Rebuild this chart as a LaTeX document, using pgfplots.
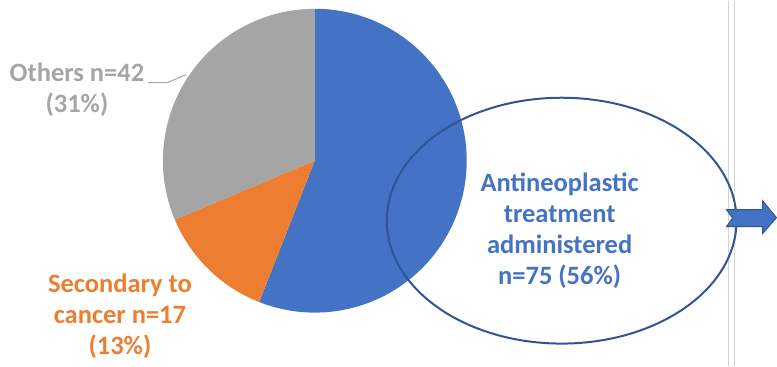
\documentclass[border=0pt]{standalone}
\usepackage{pgfplots}
\usepackage{pgfplotstable}
\pgfplotsset{compat=1.18}
\usepackage{fontspec}
\setmainfont{Carlito}
\definecolor{cblue}{HTML}{4472C4}
\definecolor{corange}{HTML}{ED7D31}
\definecolor{cgray}{HTML}{A5A5A5}
\definecolor{cdark}{HTML}{2F5597}
\definecolor{cline}{HTML}{D4D4D4}
\pgfplotstableread{
label value
Antineoplastic 75
Secondary 17
Others 42
}\piedata
\begin{document}
\begin{tikzpicture}
\pgfplotstablegetelem{0}{value}\of\piedata \pgfmathsetmacro{\va}{\pgfplotsretval}
\pgfplotstablegetelem{1}{value}\of\piedata \pgfmathsetmacro{\vb}{\pgfplotsretval}
\pgfplotstablegetelem{2}{value}\of\piedata \pgfmathsetmacro{\vc}{\pgfplotsretval}
\pgfmathsetmacro{\tot}{\va+\vb+\vc}
\pgfmathsetmacro{\ea}{90-360*(\va/\tot)}
\pgfmathsetmacro{\eb}{\ea-360*(\vb/\tot)}
\begin{axis}[
  width=777pt, height=365pt, scale only axis,
  xmin=0, xmax=777, ymin=0, ymax=365,
  hide axis, clip=false,
]
\path (axis cs:0,0) (axis cs:777,365);
% pie
\fill[cblue] (axis cs:315,205) -- ++(90:152pt) arc[start angle=90, end angle=\ea, radius=152pt] -- cycle;
\fill[corange] (axis cs:315,205) -- ++(\ea:152pt) arc[start angle=\ea, end angle=\eb, radius=152pt] -- cycle;
\fill[cgray] (axis cs:315,205) -- ++(\eb:152pt) arc[start angle=\eb, end angle=-270, radius=152pt] -- cycle;
% vertical lines
\draw[cline, line width=1.6pt] (axis cs:729,0) -- (axis cs:729,365);
\draw[cline, line width=1.6pt] (axis cs:735,0) -- (axis cs:735,365);
% ellipse
\draw[cdark, line width=2pt] (axis cs:562,145) ellipse [x radius=175pt, y radius=123pt];
% arrow
\filldraw[fill=cblue, draw=cdark, line width=1pt]
  (axis cs:727,156) -- (axis cs:763,156) -- (axis cs:763,165) -- (axis cs:777,148)
  -- (axis cs:763,132) -- (axis cs:763,139) -- (axis cs:727,139) -- (axis cs:733,147.5) -- cycle;
% leader line
\draw[cgray, line width=1pt] (axis cs:148,283) -- (axis cs:167,283) -- (axis cs:186,291);
% labels
\node[text=cgray, font=\bfseries\fontsize{26.5}{31}\selectfont, align=center] at (axis cs:77,276.5) {Others n=42\\(31\%)};
\node[text=corange, font=\bfseries\fontsize{26.5}{31}\selectfont, align=center] at (axis cs:120,49) {Secondary to\\cancer n=17\\(13\%)};
\node[text=cblue, font=\bfseries\fontsize{26.5}{31}\selectfont, align=center] at (axis cs:560,135) {Antineoplastic\\treatment\\administered\\n=75 (56\%)};
\end{axis}
\end{tikzpicture}
\end{document}
